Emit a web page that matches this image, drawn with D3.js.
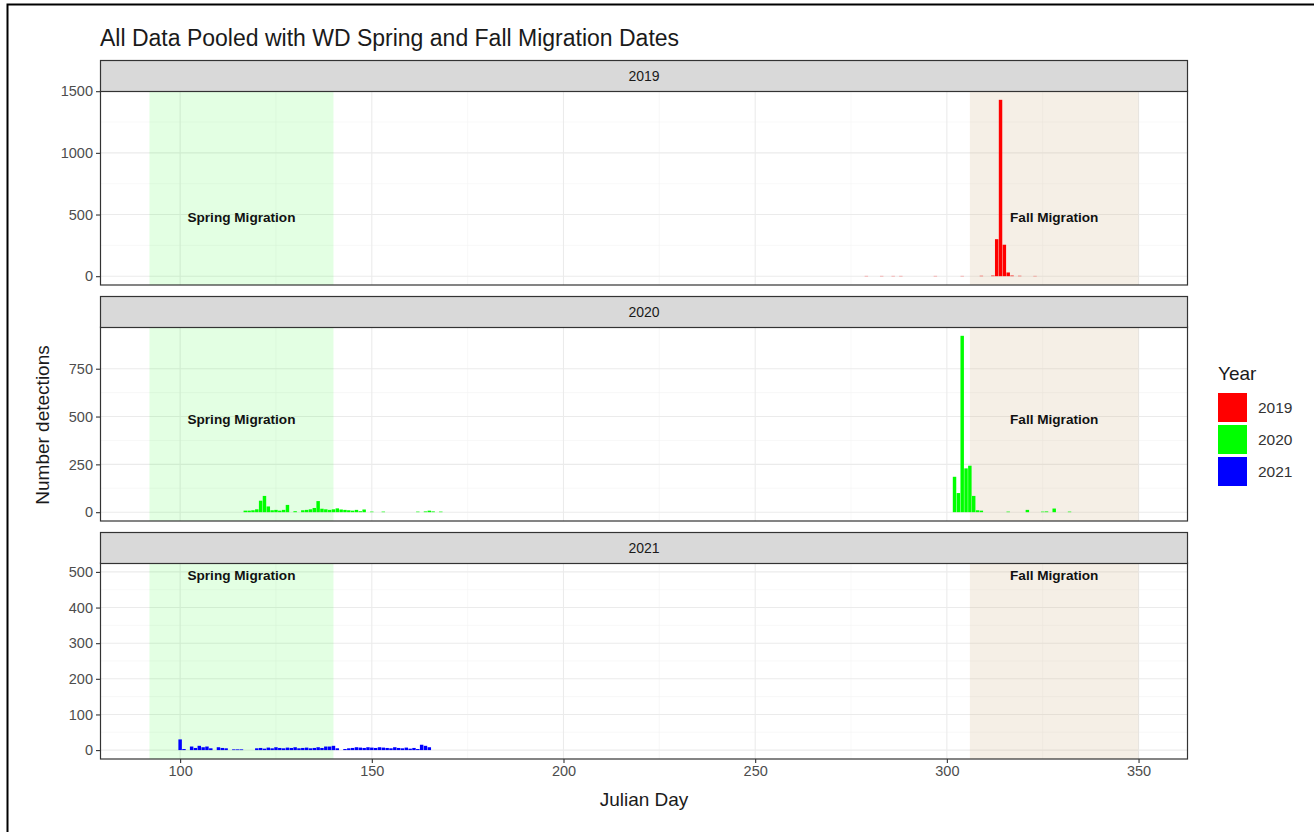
<!DOCTYPE html>
<html>
<head>
<meta charset="utf-8">
<script src="https://cdn.jsdelivr.net/npm/d3@7/dist/d3.min.js"></script>
<style>
body { margin: 0; background: #fff; }
text { font-family: "Liberation Sans", Arial, sans-serif; }
</style>
</head>
<body>
<div id="chart"></div>
<script>

var years = ["2019", "2020", "2021"];
var yearColors = ["#FF0000", "#00FF00", "#0000FF"];

// detections per julian day
var days2019 = [279, 283, 286, 288, 297, 304, 309, 312, 313, 314, 315, 316, 317, 319, 323];
var counts2019 = [2, 2, 2, 2, 2, 2, 3, 5, 300, 1430, 255, 30, 5, 3, 2];

var days2020 = [117, 118, 119, 120, 121, 122, 123, 124, 125, 126, 127, 128, 130, 132, 133, 134, 135, 136, 137, 138, 139,
	140, 141, 142, 143, 144, 145, 146, 147, 148, 150, 153, 162, 164, 165, 166, 168,
	302, 303, 304, 305, 306, 307, 308, 309, 316, 321, 325, 326, 328, 332];
var counts2020 = [8, 8, 10, 15, 60, 85, 30, 10, 12, 8, 12, 38, 5, 10, 12, 15, 22, 58, 18, 15, 12,
	15, 20, 14, 12, 10, 8, 12, 5, 14, 3, 3, 3, 4, 8, 4, 3,
	185, 100, 922, 229, 243, 85, 10, 8, 3, 12, 3, 4, 19, 3];

var days2021 = [100, 101, 103, 104, 105, 106, 107, 108, 110, 111, 112, 114, 115, 116,
	120, 121, 122, 123, 124, 125, 126, 127, 128, 129, 130, 131, 132, 133, 134, 135, 136, 137, 138, 139, 140, 141,
	143, 144, 145, 146, 147, 148, 149, 150, 151, 152, 153, 154, 155, 156, 157, 158, 159, 160, 161, 162, 163, 164, 165];
var counts2021 = [30, 3, 10, 6, 12, 8, 10, 5, 8, 6, 5, 2, 2, 2,
	5, 6, 4, 7, 5, 8, 6, 5, 7, 6, 8, 5, 6, 7, 5, 6, 8, 6, 10, 10, 12, 5,
	3, 5, 6, 8, 7, 6, 8, 7, 6, 8, 7, 6, 5, 8, 6, 5, 7, 4, 6, 3, 15, 12, 8];

var xTicks = [100, 150, 200, 250, 300, 350];
var yTicks2019 = [0, 500, 1000, 1500];
var yTicks2020 = [0, 250, 500, 750];
var yTicks2021 = [0, 100, 200, 300, 400, 500];

var springStart = 92, springEnd = 140;
var fallStart = 306, fallEnd = 350;
var labelY = 500;

var W = 1314, H = 832,
	PL = 100, PR = 1188,
	STRIP_H = 31,
	TICK_FS = 14.5,
	panelTops = [60, 296, 532],
	panelBottoms = [285, 521, 759];

var svg = d3.select("#chart")
	.append("svg")
		.attr("width", W)
		.attr("height", H);

svg.append("rect").attr("width", W).attr("height", H).attr("fill", "#fff");

// frame of the screenshot
svg.append("path")
	.attr("d", "M7.5,832 V4.5 H1314")
	.attr("fill", "none")
	.attr("stroke", "#000")
	.attr("stroke-width", 2);

var xSpan = fallEnd - springStart;
var x = d3.scaleLinear()
	.domain([springStart - 0.05 * xSpan, fallEnd + 0.05 * xSpan])
	.range([PL, PR]);

var panels = [
	{year: years[0], days: days2019, counts: counts2019, ticks: yTicks2019, color: yearColors[0]},
	{year: years[1], days: days2020, counts: counts2020, ticks: yTicks2020, color: yearColors[1]},
	{year: years[2], days: days2021, counts: counts2021, ticks: yTicks2021, color: yearColors[2]}
];

panels.forEach(function(p, i) {
	var top = panelTops[i] + STRIP_H,
		bottom = panelBottoms[i];
	var yMax = Math.max(d3.max(p.counts), labelY);
	var y = d3.scaleLinear()
		.domain([-0.05 * yMax, yMax * 1.05])
		.range([bottom, top]);

	var g = svg.append("g").attr("class", "panel");

	// grid
	var minorY = [];
	for (var k = 0; k < p.ticks.length - 1; k++) minorY.push((p.ticks[k] + p.ticks[k + 1]) / 2);
	var minorX = [];
	for (var k = 0; k < xTicks.length - 1; k++) minorX.push((xTicks[k] + xTicks[k + 1]) / 2);

	g.selectAll(".minor-y").data(minorY).enter().append("line")
		.attr("x1", PL).attr("x2", PR)
		.attr("y1", function(d) { return y(d); }).attr("y2", function(d) { return y(d); })
		.attr("stroke", "#F4F4F4").attr("stroke-width", 0.6);
	g.selectAll(".minor-x").data(minorX).enter().append("line")
		.attr("y1", top).attr("y2", bottom)
		.attr("x1", function(d) { return x(d); }).attr("x2", function(d) { return x(d); })
		.attr("stroke", "#F4F4F4").attr("stroke-width", 0.6);
	g.selectAll(".major-y").data(p.ticks).enter().append("line")
		.attr("x1", PL).attr("x2", PR)
		.attr("y1", function(d) { return y(d); }).attr("y2", function(d) { return y(d); })
		.attr("stroke", "#EBEBEB").attr("stroke-width", 1.1);
	g.selectAll(".major-x").data(xTicks).enter().append("line")
		.attr("y1", top).attr("y2", bottom)
		.attr("x1", function(d) { return x(d); }).attr("x2", function(d) { return x(d); })
		.attr("stroke", "#EBEBEB").attr("stroke-width", 1.1);

	// migration windows
	g.append("rect")
		.attr("x", x(springStart)).attr("width", x(springEnd) - x(springStart))
		.attr("y", top).attr("height", bottom - top)
		.attr("fill", "#00FF00").attr("opacity", 0.11);
	g.append("rect")
		.attr("x", x(fallStart)).attr("width", x(fallEnd) - x(fallStart))
		.attr("y", top).attr("height", bottom - top)
		.attr("fill", "#D2B48C").attr("opacity", 0.22);

	// bars
	var bw = x(0.9) - x(0);
	g.selectAll(".bar").data(p.days).enter().append("rect")
		.attr("x", function(d) { return x(d) - bw / 2; })
		.attr("width", bw)
		.attr("y", function(d, j) { return y(p.counts[j]); })
		.attr("height", function(d, j) { return y(0) - y(p.counts[j]); })
		.attr("fill", p.color);

	// labels
	g.append("text")
		.attr("x", x((springStart + springEnd) / 2)).attr("y", y(labelY) + 3)
		.attr("dy", "0.35em")
		.attr("text-anchor", "middle")
		.attr("font-size", 13.6).attr("font-weight", "bold").attr("fill", "#111")
		.text("Spring Migration");
	g.append("text")
		.attr("x", x((fallStart + fallEnd) / 2)).attr("y", y(labelY) + 3)
		.attr("dy", "0.35em")
		.attr("text-anchor", "middle")
		.attr("font-size", 13.6).attr("font-weight", "bold").attr("fill", "#111")
		.text("Fall Migration");

	// panel border
	g.append("rect")
		.attr("x", PL + 0.5).attr("y", top)
		.attr("width", PR - PL - 1).attr("height", bottom - top)
		.attr("fill", "none").attr("stroke", "#333").attr("stroke-width", 1.2);

	// strip
	g.append("rect")
		.attr("x", PL + 0.5).attr("y", panelTops[i] + 0.5)
		.attr("width", PR - PL - 1).attr("height", STRIP_H)
		.attr("fill", "#D9D9D9").attr("stroke", "#333").attr("stroke-width", 1.2);
	g.append("text")
		.attr("x", (PL + PR) / 2).attr("y", panelTops[i] + STRIP_H / 2 + 1)
		.attr("dy", "0.35em")
		.attr("text-anchor", "middle")
		.attr("font-size", 14).attr("fill", "#1A1A1A")
		.text(p.year);

	// y axis
	var yAxis = g.append("g")
		.attr("transform", "translate(" + PL + ",0)")
		.call(d3.axisLeft(y).tickValues(p.ticks).tickSize(4).tickPadding(3).tickFormat(d3.format("d")));
	yAxis.select(".domain").remove();
	yAxis.selectAll("line").attr("stroke", "#333").attr("stroke-width", 1.1);
	yAxis.selectAll("text").attr("font-size", TICK_FS).attr("fill", "#4D4D4D")
		.attr("font-family", "Liberation Sans, Arial, sans-serif");

	if (i === panels.length - 1) {
		var xAxis = g.append("g")
			.attr("transform", "translate(0," + bottom + ")")
			.call(d3.axisBottom(x).tickValues(xTicks).tickSize(4).tickPadding(3));
		xAxis.select(".domain").remove();
		xAxis.selectAll("line").attr("stroke", "#333").attr("stroke-width", 1.1);
		xAxis.selectAll("text").attr("font-size", TICK_FS).attr("fill", "#4D4D4D")
			.attr("font-family", "Liberation Sans, Arial, sans-serif");
	}
});

// titles
svg.append("text")
	.attr("x", PL).attr("y", 46)
	.attr("font-size", 23).attr("fill", "#1A1A1A")
	.text("All Data Pooled with WD Spring and Fall Migration Dates");

svg.append("text")
	.attr("x", (PL + PR) / 2).attr("y", 806)
	.attr("text-anchor", "middle")
	.attr("font-size", 19).attr("fill", "#1A1A1A")
	.text("Julian Day");

svg.append("text")
	.attr("transform", "translate(49,425) rotate(-90)")
	.attr("text-anchor", "middle")
	.attr("font-size", 19).attr("fill", "#1A1A1A")
	.text("Number detections");

// legend
var legend = svg.append("g").attr("transform", "translate(1218,0)");
legend.append("text")
	.attr("x", 0).attr("y", 380)
	.attr("font-size", 19).attr("fill", "#1A1A1A")
	.text("Year");
legend.selectAll(".key").data(years).enter().append("rect")
	.attr("x", 0)
	.attr("y", function(d, i) { return 393 + i * 32; })
	.attr("width", 29).attr("height", 29)
	.attr("fill", function(d, i) { return yearColors[i]; });
legend.selectAll(".lab").data(years).enter().append("text")
	.attr("x", 40)
	.attr("y", function(d, i) { return 408 + i * 32; })
	.attr("dy", "0.35em")
	.attr("font-size", 15.5).attr("fill", "#333")
	.text(function(d) { return d; });

</script>
</body>
</html>
